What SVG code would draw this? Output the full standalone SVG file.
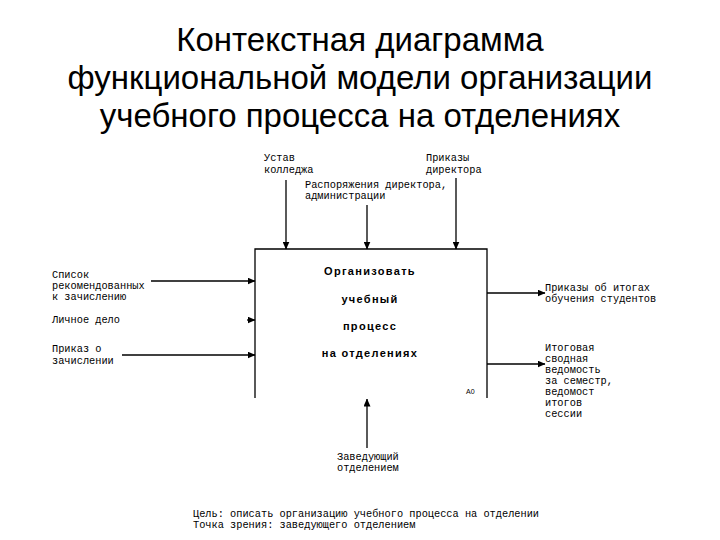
<svg xmlns="http://www.w3.org/2000/svg" width="720" height="540" viewBox="0 0 720 540">
<defs>
<marker id="ah" markerWidth="8" markerHeight="7" refX="7.5" refY="3.5" orient="auto" markerUnits="userSpaceOnUse">
<path d="M0,0 L8,3.5 L0,7 Z" fill="#000"/>
</marker>
<style>
.title{font-family:"Liberation Sans",Arial,sans-serif;font-size:33px;fill:#000;text-anchor:middle}
.lbl{font-family:"Liberation Mono","Courier New",monospace;font-size:10.3px;fill:#000}
.box{font-family:"Liberation Sans",Arial,sans-serif;font-size:11px;font-weight:bold;fill:#000;text-anchor:middle;letter-spacing:1.3px}
.ln{stroke:#000;stroke-width:1.3;fill:none}
.arr{stroke:#000;stroke-width:1.3;fill:none;marker-end:url(#ah)}
</style>
</defs>
<rect width="720" height="540" fill="#fff"/>
<g id="title">
<text class="title" x="360" y="51">Контекстная диаграмма</text>
<text class="title" x="360" y="89">функциональной модели организации</text>
<text class="title" x="360" y="127">учебного процесса на отделениях</text>
</g>
<g id="activity">
<path class="ln" d="M255,398 V249 H487 V398"/>
<text class="box" x="370" y="275">Организовать</text>
<text class="box" x="370" y="303">учебный</text>
<text class="box" x="370" y="330">процесс</text>
<text class="box" x="370" y="357">на отделениях</text>
<text x="466" y="394" font-family="Liberation Sans,Arial,sans-serif" font-size="7" fill="#000">A0</text>
</g>
<g id="connectors">
<line class="arr" x1="286" y1="180" x2="286" y2="249"/>
<line class="arr" x1="367" y1="205" x2="367" y2="249"/>
<line class="arr" x1="456" y1="178" x2="456" y2="249"/>
<line class="arr" x1="151" y1="281" x2="255" y2="281"/>
<line class="arr" x1="247" y1="320" x2="255" y2="320"/>
<line class="arr" x1="122" y1="355" x2="255" y2="355"/>
<line class="arr" x1="487" y1="293" x2="545" y2="293"/>
<line class="arr" x1="487" y1="364" x2="545" y2="364"/>
<line class="arr" x1="367" y1="448" x2="367" y2="399"/>
</g>
<g id="control-ustav">
<text class="lbl" x="264" y="161">Устав</text>
<text class="lbl" x="264" y="173">колледжа</text>
</g>
<g id="control-prikazy">
<text class="lbl" x="426" y="161">Приказы</text>
<text class="lbl" x="426" y="173">директора</text>
</g>
<g id="control-rasp">
<text class="lbl" x="305" y="188">Распоряжения директора,</text>
<text class="lbl" x="305" y="199">администрации</text>
</g>
<g id="input-spisok">
<text class="lbl" x="52" y="278">Список</text>
<text class="lbl" x="52" y="289">рекомендованных</text>
<text class="lbl" x="52" y="300">к зачислению</text>
</g>
<g id="input-delo">
<text class="lbl" x="52" y="323">Личное дело</text>
</g>
<g id="input-prikaz">
<text class="lbl" x="52" y="352">Приказ о</text>
<text class="lbl" x="52" y="364">зачислении</text>
</g>
<g id="output-prikazy">
<text class="lbl" x="545" y="291">Приказы об итогах</text>
<text class="lbl" x="545" y="302">обучения студентов</text>
</g>
<g id="output-vedomost">
<text class="lbl" x="545" y="351">Итоговая</text>
<text class="lbl" x="545" y="362">сводная</text>
<text class="lbl" x="545" y="373">ведомость</text>
<text class="lbl" x="545" y="384">за семестр,</text>
<text class="lbl" x="545" y="395">ведомост</text>
<text class="lbl" x="545" y="406">итогов</text>
<text class="lbl" x="545" y="417">сессии</text>
</g>
<g id="mechanism">
<text class="lbl" x="337" y="460">Заведующий</text>
<text class="lbl" x="337" y="471">отделением</text>
</g>
<g id="footer">
<text class="lbl" x="193" y="517">Цель: описать организацию учебного процесса на отделении</text>
<text class="lbl" x="193" y="528">Точка зрения: заведующего отделением</text>
</g>
</svg>
